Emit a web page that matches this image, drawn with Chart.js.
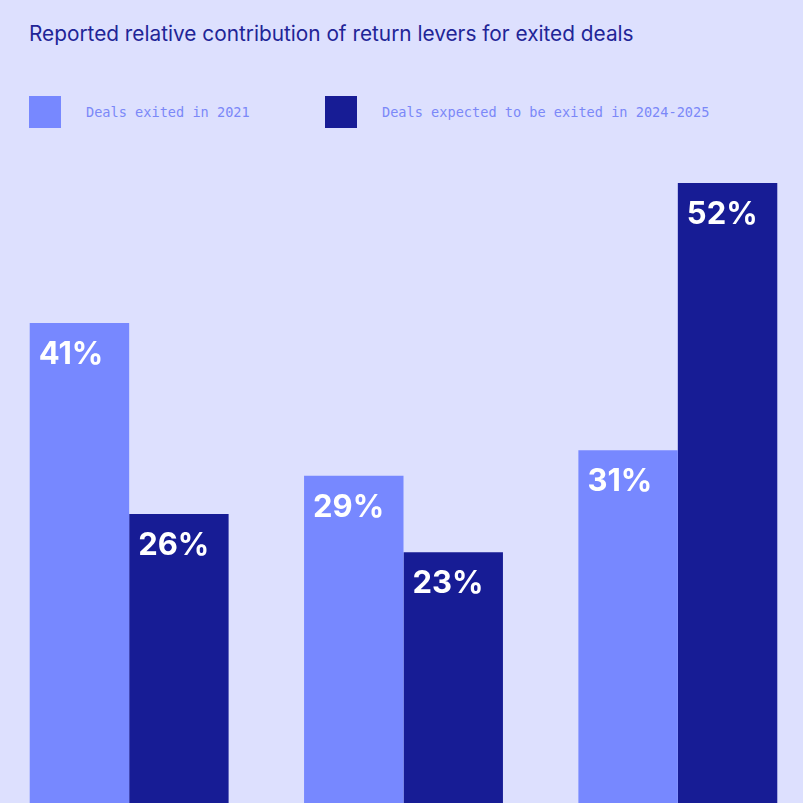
<!DOCTYPE html>
<html>
<head>
<meta charset="utf-8">
<script src="https://cdn.jsdelivr.net/npm/chart.js@4.4.1/dist/chart.umd.min.js"></script>
<style>
  html, body { margin: 0; padding: 0; }
  body { width: 803px; height: 803px; background: #dde0fe; position: relative; overflow: hidden; }
  #title { position: absolute; left: 29px; top: 21px; font-family: Inter, "Noto Sans", sans-serif; font-size: 20.8px; color: #1f2597; white-space: nowrap; }
  .legend-item { position: absolute; top: 96px; height: 32px; display: flex; align-items: center; }
  .legend-box { width: 32px; height: 32px; margin-right: 25px; }
  .legend-text { font-family: "DejaVu Sans Mono", "Liberation Mono", monospace; font-size: 13.6px; color: #7b88f8; white-space: nowrap; }
  #chartWrap { position: absolute; left: -8px; top: 160px; width: 823px; height: 643px; }
</style>
</head>
<body>
<div id="title">Reported relative contribution of return levers for exited deals</div>
<div class="legend-item" style="left:29px"><div class="legend-box" style="background:#7788ff"></div><span class="legend-text">Deals exited in 2021</span></div>
<div class="legend-item" style="left:325px"><div class="legend-box" style="background:#171c95"></div><span class="legend-text">Deals expected to be exited in 2024-2025</span></div>
<div id="chartWrap"><canvas id="chart"></canvas></div>
<script>
// categories are not shown in the picture (cut off below the bars)
const categories = ['Lever 1', 'Lever 2', 'Lever 3'];
const seriesNames = ['Deals exited in 2021', 'Deals expected to be exited in 2024-2025'];
const exited2021 = [41, 29, 31];
const expected2024 = [26, 23, 52];
const seriesColors = ['#7788ff', '#171c95'];

// draws the "41%" labels inside the top-left of each bar
const barLabels = {
    id: 'barLabels',
    afterDatasetsDraw(chart) {
        const ctx = chart.ctx;
        ctx.save();
        ctx.fillStyle = '#ffffff';
        ctx.font = 'bold 31px Inter, "Liberation Sans", sans-serif';
        ctx.textAlign = 'left';
        ctx.textBaseline = 'alphabetic';
        chart.data.datasets.forEach((ds, i) => {
            chart.getDatasetMeta(i).data.forEach((bar, j) => {
                let left = bar.x - bar.width / 2;
                ctx.fillText(ds.data[j] + '%', left + 9, bar.y + 41);
            });
        });
        ctx.restore();
    }
};

let ctx = document.getElementById('chart').getContext('2d');
new Chart(ctx, {
    type: 'bar',
    data: {
        labels: categories,
        datasets: [
            { label: seriesNames[0], data: exited2021, backgroundColor: seriesColors[0] },
            { label: seriesNames[1], data: expected2024, backgroundColor: seriesColors[1] }
        ]
    },
    options: {
        responsive: true,
        maintainAspectRatio: false,
        animation: false,
        layout: { padding: 0 },
        datasets: {
            bar: { categoryPercentage: 0.725, barPercentage: 1, borderWidth: 0 }
        },
        scales: {
            x: { display: false },
            y: { display: false, min: 3.3, max: 53.8 }
        },
        plugins: {
            legend: { display: false },
            tooltip: { enabled: false }
        }
    },
    plugins: [barLabels]
});
</script>
</body>
</html>
